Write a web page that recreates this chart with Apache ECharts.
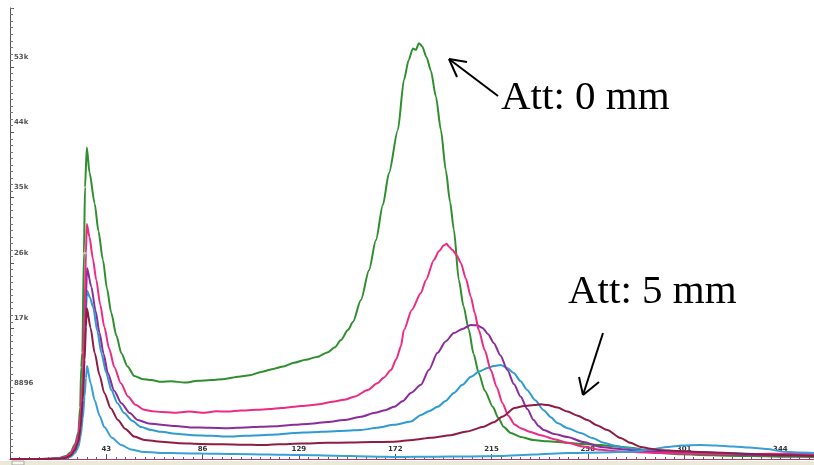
<!DOCTYPE html>
<html>
<head>
<meta charset="utf-8">
<script src="https://cdn.jsdelivr.net/npm/echarts@6/dist/echarts.min.js"></script>
<style>html,body{margin:0;padding:0;background:#fff;}#c{width:814px;height:465px;}</style>
</head>
<body>
<div id="c"></div>
<script>
// x ticks (channels) and y ticks (counts)
var xTickStep = 43;
var yTickStep = 8896;
var xMax = 359;
var yMax = 61400;

// [channel, counts]
var att0 = [[0,0],[10,0],[18,30],[22,150],[25,400],[27,900],[29,2000],[30.5,3600],[31.3,7000],[31.8,12500],[32.3,14500],[33,28000],[33.5,37000],[34.3,42400],[35.5,39000],[37.8,34800],[39.5,31000],[41.5,27100],[43.3,23200],[45.2,19900],[47.5,16800],[49.7,14400],[52.5,12600],[55.5,11300],[59,10900],[63.1,10750],[67.5,10500],[72,10600],[78,10400],[84,10650],[89.9,10750],[96,10900],[102,11200],[107,11400],[112.1,11850],[118,12300],[122,12600],[126.8,13100],[132,13500],[137,13900],[142,14550],[145,15200],[147.8,16200],[150.9,17550],[153.1,18650],[156.7,21650],[160.3,25700],[163.4,29800],[166.5,34600],[169.2,38900],[173.2,44800],[175.9,51600],[178,54300],[179.9,55900],[181.2,55700],[182.6,56600],[184,56200],[186,54700],[187.9,52900],[190.2,49300],[192.4,44800],[194.6,39300],[196.5,35000],[198.2,31200],[200.4,24400],[202.5,20800],[204.9,17550],[207,14300],[209.3,11700],[212,9300],[215.6,7100],[218,5600],[220.5,4350],[223.6,3550],[228,3000],[233.8,2600],[240,2400],[249,2200],[256,2050],[263.7,1900],[271,1700],[278.4,1500],[285,1100],[290.5,800],[300,650],[308,550],[320,450],[330.6,400],[345,320],[359,270]];

var att1 = [[0,0],[10,0],[18,20],[22,100],[25,300],[27,700],[29,1700],[30.5,3200],[31.5,6000],[32.5,11000],[33.3,20000],[33.9,28000],[34.3,32000],[35.5,30200],[37,27300],[38.5,24400],[40.3,21000],[42.1,18000],[44.3,15000],[46.6,12500],[49.5,10300],[52.7,8500],[56,7400],[59.9,6700],[63.5,6500],[67.5,6400],[73,6300],[80,6450],[87,6300],[92,6500],[97.3,6450],[103,6600],[110,6700],[116,6800],[121,6950],[126.8,7100],[133,7300],[139,7500],[144,7800],[149.1,8050],[154,8500],[159.7,9400],[164,10300],[167,11100],[170.1,12100],[172.5,13600],[174.5,15300],[175.9,17550],[179.4,20300],[183.5,22600],[185.7,24350],[189.3,27100],[191.5,28300],[193.8,29100],[195,29300],[196,28900],[197.6,28450],[199.5,27700],[201.3,26700],[203.5,24600],[205.8,22050],[207.5,19900],[209.3,17550],[212,14800],[214.7,12100],[217.3,9800],[219.9,7600],[222.5,5900],[225.3,4700],[228,4200],[232,3700],[237,3250],[243,2700],[249,2200],[256,1700],[263.7,1250],[271,1050],[278.4,950],[290,800],[308,700],[325,680],[340,700],[359,680]];

var att2 = [[0,0],[10,0],[18,20],[22,80],[25,250],[27,600],[29,1500],[30.5,2800],[31.5,5000],[32.5,9000],[33.3,16000],[33.9,22000],[34.4,26000],[36.3,23450],[38.2,20200],[40,17150],[41.8,14300],[43.7,11700],[46.5,9300],[49.7,7600],[53.5,6250],[57.1,5300],[62,4850],[67.5,4650],[74,4500],[81,4300],[89,4250],[97.3,4200],[105,4300],[112,4400],[119,4450],[126.8,4650],[134,4800],[142,5050],[149,5300],[156.7,5750],[163,6300],[167.5,6650],[171.4,7100],[175.5,7900],[179,9000],[183.5,10100],[187,12100],[190.9,14450],[194.5,16000],[198.2,17150],[202,17700],[205.8,18250],[208.5,18200],[211,17850],[213.5,17000],[216,15800],[219,14100],[222.1,12100],[225,10200],[228,8500],[231,6800],[233.8,5300],[236,4500],[238.3,3950],[243,3400],[249,3000],[256,2300],[263.7,1650],[271,1400],[278.4,1200],[290,950],[299.4,800],[315,650],[330.6,550],[345,450],[359,400]];

var att3 = [[0,0],[10,0],[18,15],[22,60],[25,200],[27,500],[29,1300],[30.5,2500],[31.5,4500],[32.5,8500],[33.3,14500],[33.9,20000],[34.4,22900],[35.7,22000],[37.1,20700],[39,17400],[40.8,14400],[43,11700],[45.2,9400],[48,7600],[51,6250],[54.5,5200],[58.6,4350],[63,3950],[67.5,3700],[74,3450],[82,3250],[90,3150],[97.3,3050],[105,3150],[112,3250],[119,3350],[126.8,3550],[135,3650],[143,3750],[150,3850],[156.7,3950],[164,4250],[171.4,4650],[179,5100],[183.5,6000],[187,6500],[190.9,7100],[194.5,7900],[198.2,9000],[202,10100],[205.8,11200],[209.5,11900],[213.2,12400],[216,12650],[219.1,12800],[222,12400],[224.9,11700],[228,10600],[230.9,9400],[234.5,8000],[238.3,6650],[241.5,5700],[244.4,4900],[249,4200],[254.8,3550],[260,2850],[265.1,2200],[270,1800],[275.8,1500],[283,1250],[290.5,1150],[300,1050],[308,950],[320,800],[335,680],[348,520],[359,400]];

var att5 = [[0,0],[10,0],[18,15],[22,50],[25,180],[27,450],[29,1200],[30.5,2300],[31.5,4200],[32.5,8000],[33.3,13500],[33.9,18000],[34.3,20550],[36,17800],[37.8,14450],[40,11400],[42.1,9000],[45,6900],[48.2,5300],[51.5,4100],[55.5,3050],[60,2600],[67.5,2350],[76,2150],[85,2050],[95,2000],[104,1950],[112.1,1900],[120,2000],[130,2100],[141.8,2200],[152,2250],[162,2300],[171.4,2350],[180,2600],[188,2900],[196.8,3250],[204,3750],[211.6,4400],[216,5000],[220,5800],[225.3,6950],[229.5,7200],[234,7350],[237,7450],[240,7350],[244.5,7000],[248.9,6450],[253.5,5900],[257.8,5300],[262,4600],[266.7,3950],[272.6,2850],[277,2200],[281.6,1650],[286,1400],[290.5,1200],[298,1100],[305.2,1000],[318,850],[330.6,680],[345,550],[359,450]];

var attLow = [[0,0],[10,0],[18,10],[22,30],[25,120],[27,300],[29,800],[30.5,1600],[31.5,3000],[32.5,5500],[33.3,8500],[33.9,11000],[34.4,12650],[36,10300],[37.8,8000],[40,5900],[42.1,4350],[45.5,2900],[49.7,1900],[54,1300],[58.6,1000],[67.5,820],[76,780],[85.4,750],[100,680],[115,620],[130,550],[145,450],[160,350],[174.5,280],[190,300],[205,350],[219.1,400],[234,600],[249,800],[264,900],[278.4,1000],[286,1300],[293.6,1650],[300,1850],[308,1900],[315,1850],[323,1700],[330,1550],[338,1350],[345.3,1000],[352,880],[359,820]];

var seriesList = [
  {name:'att0', data:att0, color:'#2f8f2f'},
  {name:'att3', data:att3, color:'#2f9bd1'},
  {name:'att2', data:att2, color:'#8a2d9c'},
  {name:'att1', data:att1, color:'#ee2b84'},
  {name:'attLow', data:attLow, color:'#3a9fd6'},
  {name:'att5', data:att5, color:'#8e1d45'}
];

var chart = echarts.init(document.getElementById('c'), null, {renderer:'canvas'});
chart.setOption({
  animation:false,
  backgroundColor:'#ffffff',
  grid:{left:10, right:0, top:8, bottom:6, containLabel:false},
  xAxis:{
    type:'value', min:0, max:xMax, interval:xTickStep,
    axisLine:{show:true, lineStyle:{color:'#b03a6a', width:1}},
    axisTick:{show:true, inside:true, length:5, lineStyle:{color:'#555'}},
    minorTick:{show:true, splitNumber:10, length:2, lineStyle:{color:'#666'}},
    splitLine:{show:false},
    axisLabel:{inside:true, margin:6, fontSize:7, fontWeight:'bold', color:'#333', fontFamily:'DejaVu Sans',
      showMinLabel:false, showMaxLabel:false,
      formatter:function(v){ return (v>0 && v % xTickStep === 0) ? String(v) : ''; }}
  },
  yAxis:{
    type:'value', min:0, max:yMax, interval:yTickStep,
    axisLine:{show:true, lineStyle:{color:'#555', width:1}},
    axisTick:{show:true, inside:true, length:4, lineStyle:{color:'#555'}},
    minorTick:{show:true, splitNumber:10, length:3, lineStyle:{color:'#777'}},
    splitLine:{show:false},
    axisLabel:{inside:true, margin:4, showMinLabel:false, showMaxLabel:false,
      formatter:function(v){
        if (v <= 0 || v % yTickStep !== 0) return '';
        var t = v < 10000 ? String(v) : Math.floor(v/1000) + 'k';
        return '{a|' + t + '}';
      },
      rich:{a:{fontSize:7, fontWeight:'bold', color:'#555', fontFamily:'DejaVu Sans', padding:[0,0,20,0]}}
    }
  },
  series: seriesList.map(function(s){
    return {type:'line', name:s.name, data:s.data, showSymbol:false, symbol:'none',
      smooth:0.25, smoothMonotone:'x',
      lineStyle:{color:s.color, width:2}, itemStyle:{color:s.color}};
  }),
  graphic:[
    {type:'rect', shape:{x:0, y:461, width:814, height:4}, style:{fill:'#ece9d8'}, silent:true},
    {type:'rect', shape:{x:12, y:461, width:12, height:4}, style:{fill:'#f6f4ec', stroke:'#a8a8a0', lineWidth:1}, silent:true},
    {type:'text', x:501, y:98, style:{text:'Att: 0 mm', font:'41px "Liberation Serif", "Times New Roman", serif', fill:'#000', align:'left', verticalAlign:'middle'}},
    {type:'text', x:568, y:292, style:{text:'Att: 5 mm', font:'41px "Liberation Serif", "Times New Roman", serif', fill:'#000', align:'left', verticalAlign:'middle'}},
    {type:'line', shape:{x1:498, y1:96, x2:449, y2:59}, style:{stroke:'#000', lineWidth:2}},
    {type:'line', shape:{x1:449, y1:59, x2:467, y2:62}, style:{stroke:'#000', lineWidth:2}},
    {type:'line', shape:{x1:449, y1:59, x2:457, y2:77}, style:{stroke:'#000', lineWidth:2}},
    {type:'line', shape:{x1:603, y1:333, x2:583, y2:395}, style:{stroke:'#000', lineWidth:2}},
    {type:'line', shape:{x1:583, y1:395, x2:579, y2:377}, style:{stroke:'#000', lineWidth:2}},
    {type:'line', shape:{x1:583, y1:395, x2:599, y2:382}, style:{stroke:'#000', lineWidth:2}}
  ]
});
</script>
</body>
</html>
